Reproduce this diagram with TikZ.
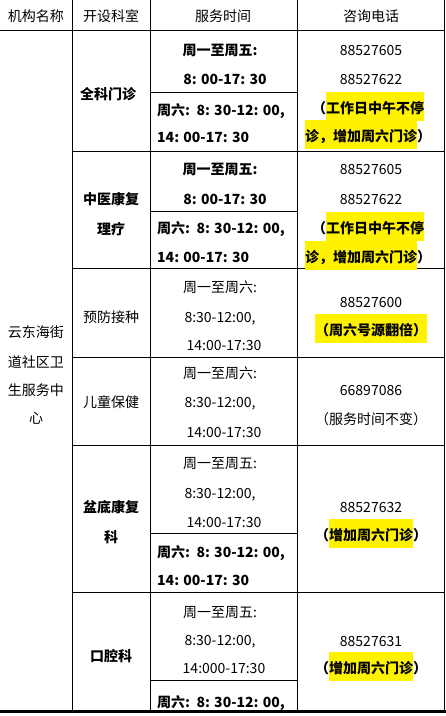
\documentclass[tikz,border=0pt]{standalone}
\usepackage{fontspec}
\setmainfont{Noto Sans CJK SC}
\newcommand{\yhl}[1]{{\setlength{\fboxsep}{0pt}\colorbox{yellow}{\rule[-8pt]{0pt}{29pt}#1}}}
\tikzset{
  txt/.style={anchor=base,yshift=-5pt,inner sep=0pt,font=\fontsize{14}{16}\selectfont},
  txtb/.style={txt,font=\fontsize{14}{16}\selectfont\bfseries},
  txtl/.style={txt,anchor=base west},
  txtbl/.style={txtb,anchor=base west},
  grid/.style={line width=1pt},
}
\begin{document}
\begin{tikzpicture}[x=1pt,y=-1pt]
\useasboundingbox (0,0) rectangle (446,716);
% rules of the table
\draw[grid] (0,30) -- (445,30);
\draw[grid] (72,151) -- (445,151);
\draw[grid] (72,268) -- (445,268);
\draw[grid] (72,357) -- (445,357);
\draw[grid] (72,445) -- (445,445);
\draw[grid] (72,592) -- (445,592);
\draw[grid] (150,92) -- (297,92);
\draw[grid] (150,211) -- (297,211);
\draw[grid] (150,533) -- (297,533);
\draw[grid] (150,680) -- (297,680);
\draw[grid] (72,0) -- (72,712);
\draw[grid] (150,0) -- (150,712);
\draw[grid] (297,0) -- (297,712);
\draw[grid] (444.5,0) -- (444.5,712);
\draw[line width=2.5pt] (0,711.5) -- (446,711.5);
% header
\node[txt] (hname) at (36,16) {机构名称};
\node[txt] (hdept) at (111,16) {开设科室};
\node[txt] (htime) at (223,16) {服务时间};
\node[txt] (htel) at (371,16) {咨询电话};
% centre
\node[txt] (c1) at (36,332) {云东海街};
\node[txt] (c2) at (36,362) {道社区卫};
\node[txt] (c3) at (36,390) {生服务中};
\node[txt] (c4) at (36,418) {心};
% departments
\node[txtb] (d1) at (108,94) {全科门诊};
\node[txtb] (d2a) at (111,199) {中医康复};
\node[txtb] (d2b) at (111,229) {理疗};
\node[txt] (d3) at (111,317) {预防接种};
\node[txt] (d4) at (111,402) {儿童保健};
\node[txtb] (d5a) at (111,507) {盆底康复};
\node[txtb] (d5b) at (111,537) {科};
\node[txtb] (d6) at (111,656) {口腔科};
% service hours
\node[txtb] (t1a) at (220,50) {周一至周五:};
\node[txtb] (t1b) at (225,79) {8: 00-17: 30};
\node[txtbl] (t1c) at (157,110) {周六:\ \ 8: 30-12: 00,};
\node[txtbl] (t1d) at (157,137) {14: 00-17: 30};
\node[txtb] (t2a) at (220,169) {周一至周五:};
\node[txtb] (t2b) at (225,199) {8: 00-17: 30};
\node[txtbl] (t2c) at (157,228) {周六:\ \ 8: 30-12: 00,};
\node[txtbl] (t2d) at (157,257) {14: 00-17: 30};
\node[txt] (t3a) at (220,287) {周一至周六:};
\node[txt] (t3b) at (220,317) {8:30-12:00,};
\node[txt] (t3c) at (224,345) {14:00-17:30};
\node[txt] (t4a) at (220,373) {周一至周六:};
\node[txt] (t4b) at (220,402) {8:30-12:00,};
\node[txt] (t4c) at (224,432) {14:00-17:30};
\node[txt] (t5a) at (220,463) {周一至周五:};
\node[txt] (t5b) at (220,493) {8:30-12:00,};
\node[txt] (t5c) at (224,522) {14:00-17:30};
\node[txtbl] (t5d) at (157,552) {周六:\ \ 8: 30-12: 00,};
\node[txtbl] (t5e) at (157,580) {14: 00-17: 30};
\node[txt] (t6a) at (220,612) {周一至周五:};
\node[txt] (t6b) at (220,640) {8:30-12:00,};
\node[txt] (t6c) at (224,668) {14:000-17:30};
\node[txtbl] (t6d) at (157,702) {周六:\ \ 8: 30-12: 00,};
% phone numbers
\node[txt] (p1a) at (371,50) {88527605};
\node[txt] (p1b) at (371,79) {88527622};
\node[txtb] (p1c) at (368,108) {（\yhl{工作日中午不停}};
\node[txtb] (p1d) at (368,136) {\yhl{诊，增加周六门诊}）};
\node[txt] (p2a) at (371,169) {88527605};
\node[txt] (p2b) at (371,199) {88527622};
\node[txtb] (p2c) at (368,228) {（\yhl{工作日中午不停}};
\node[txtb] (p2d) at (368,257) {\yhl{诊，增加周六门诊}）};
\node[txt] (p3a) at (371,302) {88527600};
\node[txtb] (p3b) at (371,330) {\yhl{（周六号源翻倍）}};
\node[txt] (p4a) at (371,390) {66897086};
\node[txt] (p4b) at (371,419) {（服务时间不变）};
\node[txt] (p5a) at (371,507) {88527632};
\node[txtb] (p5b) at (371,535) {（\yhl{增加周六门诊}）};
\node[txt] (p6a) at (371,641) {88527631};
\node[txtb] (p6b) at (371,668) {（\yhl{增加周六门诊}）};
\end{tikzpicture}
\end{document}
